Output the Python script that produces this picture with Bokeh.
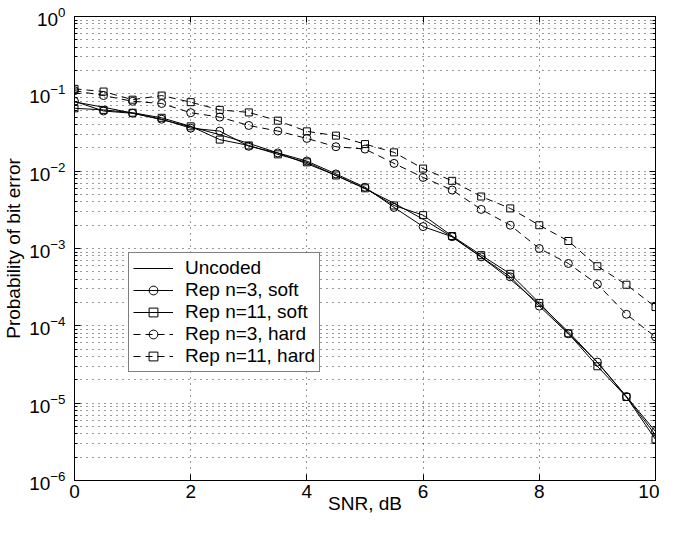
from bokeh.plotting import figure
from bokeh.models import (FixedTicker, LinearAxis, LogAxis, Legend, LegendItem,
                          CustomJSTickFormatter)
from bokeh.embed import file_html
from bokeh.resources import INLINE

snr_db = [0, 0.5, 1, 1.5, 2, 2.5, 3, 3.5, 4, 4.5, 5,
          5.5, 6, 6.5, 7, 7.5, 8, 8.5, 9, 9.5, 10]

uncoded = [0.0786, 0.0671, 0.0563, 0.0464, 0.0375, 0.0296, 0.0229, 0.0172,
           0.0125, 0.00882, 0.00595, 0.00385, 0.00239, 0.00141, 0.000773,
           0.000400, 0.000191, 8.4e-5, 3.36e-5, 1.21e-5, 3.87e-6]

rep3_soft = [0.080, 0.060, 0.056, 0.047, 0.036, 0.033, 0.021, 0.0172,
             0.0135, 0.0092, 0.0062, 0.0034, 0.00192, 0.00142, 0.00078,
             0.00043, 0.00018, 7.9e-5, 3.4e-5, 1.22e-5, 4.3e-6]

rep11_soft = [0.065, 0.062, 0.057, 0.049, 0.038, 0.0256, 0.0215, 0.0165,
              0.013, 0.0088, 0.0060, 0.0036, 0.0027, 0.00145, 0.00082,
              0.00047, 0.000198, 8.0e-5, 3.0e-5, 1.2e-5, 3.4e-6]

rep3_hard = [0.110, 0.095, 0.080, 0.075, 0.057, 0.050, 0.039, 0.033,
             0.0265, 0.0207, 0.0193, 0.0126, 0.0083, 0.0057, 0.0032,
             0.0020, 0.00100, 0.00064, 0.000345, 0.000141, 7.2e-5]

rep11_hard = [0.116, 0.107, 0.084, 0.095, 0.078, 0.062, 0.0575, 0.045,
              0.0327, 0.0288, 0.0224, 0.0175, 0.0108, 0.0075, 0.0047,
              0.0033, 0.0020, 0.00125, 0.00059, 0.00034, 0.000175]

x_ticks = [0, 2, 4, 6, 8, 10]
y_major = [10.0 ** k for k in range(-6, 1)]
y_minor = [m * 10.0 ** k for k in range(-6, 0) for m in range(2, 10)]

FONT = "Liberation Sans"
FS = "19px"

p = figure(width=659, height=517, y_axis_type="log",
           x_range=(0, 10), y_range=(1e-6, 1),
           output_backend="svg", toolbar_location=None,
           min_border_left=70, min_border_top=16,
           min_border_right=4, min_border_bottom=37)
p.background_fill_color = "white"
p.border_fill_color = "white"
p.outline_line_color = "black"
p.outline_line_width = 1

for ax in (p.xaxis[0], p.yaxis[0]):
    ax.major_label_text_font = FONT
    ax.major_label_text_font_size = FS
    ax.major_label_text_color = "black"
    ax.axis_label_text_font = FONT
    ax.axis_label_text_font_size = FS
    ax.axis_label_text_font_style = "normal"
    ax.axis_label_text_color = "black"
    ax.axis_line_color = "black"
    ax.major_tick_line_color = "black"
    ax.minor_tick_line_color = "black"
    ax.major_tick_in = 6
    ax.major_tick_out = 0
    ax.minor_tick_in = 3
    ax.minor_tick_out = 0

p.xaxis[0].ticker = FixedTicker(ticks=x_ticks)
p.xaxis[0].axis_label = "SNR, dB"
p.xaxis[0].major_label_standoff = 4
p.xaxis[0].axis_label_standoff = -8
p.yaxis[0].ticker = FixedTicker(ticks=y_major, minor_ticks=y_minor)
p.yaxis[0].axis_label = "Probability of bit error"
p.yaxis[0].major_label_standoff = 9
p.yaxis[0].axis_label_standoff = 2

top_ax = LinearAxis(ticker=FixedTicker(ticks=x_ticks),
                    formatter=CustomJSTickFormatter(code="return '';"),
                    major_label_text_font_size="1px", major_label_standoff=0,
                    major_tick_in=6, major_tick_out=0, axis_line_color="black",
                    major_tick_line_color="black")
right_ax = LogAxis(ticker=FixedTicker(ticks=y_major, minor_ticks=y_minor),
                   formatter=CustomJSTickFormatter(code="return '';"),
                   major_label_text_font_size="1px", major_label_standoff=0,
                   major_tick_in=6, major_tick_out=0, minor_tick_in=3, minor_tick_out=0,
                   axis_line_color="black", major_tick_line_color="black",
                   minor_tick_line_color="black")
p.add_layout(top_ax, "above")
p.add_layout(right_ax, "right")

p.xgrid.grid_line_color = "#333333"
p.xgrid.grid_line_dash = "1 5"
p.xgrid.grid_line_width = 1
p.ygrid.ticker = FixedTicker(ticks=y_major, minor_ticks=y_minor)
p.ygrid.grid_line_color = "#333333"
p.ygrid.grid_line_dash = "1 5"
p.ygrid.minor_grid_line_color = "#333333"
p.ygrid.minor_grid_line_dash = "1 5"

r_unc = p.line(snr_db, uncoded, line_color="black", line_width=1)

l3s = p.line(snr_db, rep3_soft, line_color="black", line_width=1)
m3s = p.scatter(snr_db, rep3_soft, marker="circle", size=8,
                line_color="black", fill_color=None, line_width=1)

l11s = p.line(snr_db, rep11_soft, line_color="black", line_width=1)
m11s = p.scatter(snr_db, rep11_soft, marker="square", size=7,
                 line_color="black", fill_color=None, line_width=1)

l3h = p.line(snr_db, rep3_hard, line_color="black", line_width=1, line_dash="7 5")
m3h = p.scatter(snr_db, rep3_hard, marker="circle", size=8,
                line_color="black", fill_color=None, line_width=1)

l11h = p.line(snr_db, rep11_hard, line_color="black", line_width=1, line_dash="7 5")
m11h = p.scatter(snr_db, rep11_hard, marker="square", size=7,
                 line_color="black", fill_color=None, line_width=1)

legend = Legend(items=[
    LegendItem(label="Uncoded", renderers=[r_unc]),
    LegendItem(label="Rep n=3, soft", renderers=[l3s, m3s]),
    LegendItem(label="Rep n=11, soft", renderers=[l11s, m11s]),
    LegendItem(label="Rep n=3, hard", renderers=[l3h, m3h]),
    LegendItem(label="Rep n=11, hard", renderers=[l11h, m11h]),
], location=(54, 108))
legend.label_text_font = FONT
legend.label_text_font_size = "19px"
legend.label_text_color = "black"
legend.border_line_color = "black"
legend.border_line_width = 1
legend.background_fill_color = "white"
legend.background_fill_alpha = 1
legend.padding = 4
legend.spacing = 0
legend.margin = 0
legend.glyph_width = 40
legend.glyph_height = 22
legend.label_height = 22
legend.label_standoff = 12
p.add_layout(legend)

open("out.html", "w").write(file_html(p, INLINE))
